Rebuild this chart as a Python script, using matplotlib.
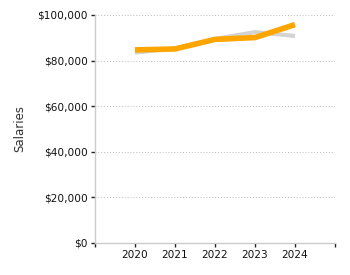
import matplotlib
matplotlib.use("Agg")
import matplotlib.pyplot as plt
from matplotlib.ticker import FuncFormatter

years = [2020, 2021, 2022, 2023, 2024]
series_gray = [83500, 85400, 89500, 92500, 90800]
series_orange = [84700, 85100, 89300, 90100, 95800]
y_ticks = [0, 20000, 40000, 60000, 80000, 100000]

fig = plt.figure(figsize=(3.5, 2.75), dpi=100)
ax = fig.add_axes([95/350, 1-243/275, 240/350, 228/275])

ax.plot(years, series_gray, color="#d3d3d3", lw=3, solid_capstyle="butt", zorder=2)
ax.plot(years, series_orange, color="#ffa500", lw=4, solid_capstyle="butt", zorder=3)

ax.set_xlim(2019, 2025)
ax.set_ylim(0, 100000)
ax.set_xticks(list(range(2019, 2026)))
ax.set_xticklabels([""] + [str(y) for y in years] + [""])
ax.set_yticks(y_ticks)
ax.yaxis.set_major_formatter(FuncFormatter(lambda v, p: "${:,.0f}".format(v)))
ax.grid(axis="y", color="#bbbbbb", linestyle=(0, (1, 2)), linewidth=0.7)
ax.set_axisbelow(True)

for s in ["top", "right"]:
    ax.spines[s].set_visible(False)
for s in ["left", "bottom"]:
    ax.spines[s].set_color("#cccccc")
    ax.spines[s].set_linewidth(1)

ax.tick_params(axis="both", length=3, width=1, color="#222222", labelsize=7.6, labelcolor="#111111", pad=2)
ax.set_ylabel("Salaries", fontsize=8.5, color="#333333", labelpad=8)

fig.savefig("out.png", dpi=100)
